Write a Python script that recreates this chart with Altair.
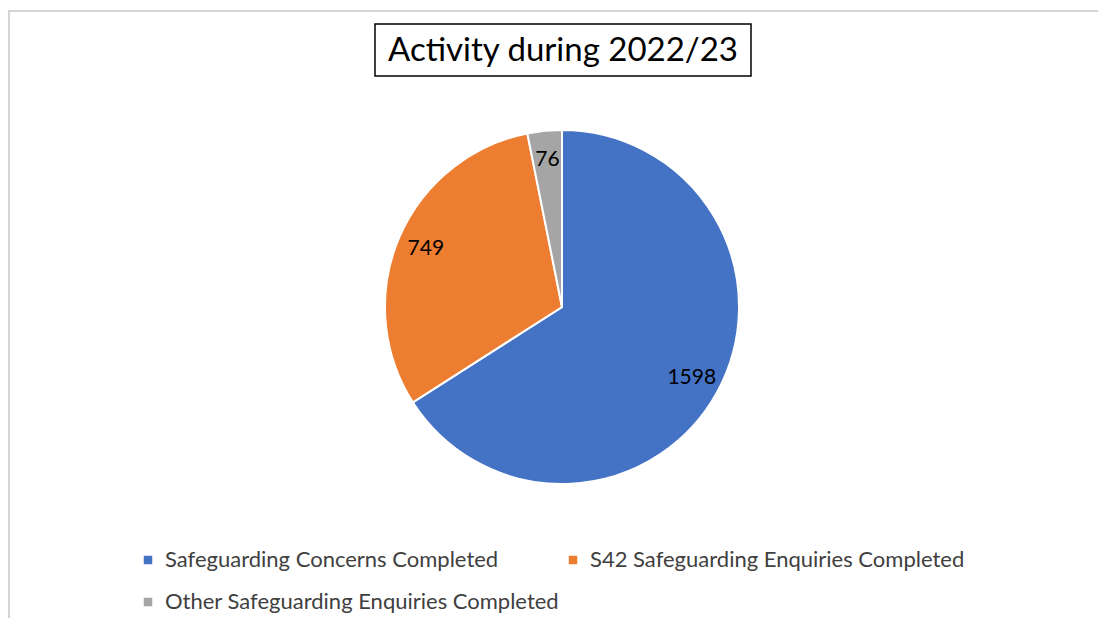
import altair as alt
import pandas as pd

categories = [
    "Safeguarding Concerns Completed",
    "S42 Safeguarding Enquiries Completed",
    "Other Safeguarding Enquiries Completed",
]
values = [1598, 749, 76]
colors = ["#4472C4", "#ED7D31", "#A5A5A5"]
title_text = "Activity during 2022/23"

df = pd.DataFrame({"category": categories, "value": values, "order": list(range(len(categories)))})
one = pd.DataFrame({"t": [title_text]})

FONT = "Lato"
CX, CY = 554, 299

border = alt.Chart(one).mark_rect(fill="white", stroke="#d4d4d4", strokeWidth=2).encode(
    x=alt.value(1), x2=alt.value(1110), y=alt.value(3), y2=alt.value(630)
)
title_box = alt.Chart(one).mark_rect(fill="white", stroke="#000000", strokeWidth=1.5).encode(
    x=alt.value(367), x2=alt.value(743), y=alt.value(16), y2=alt.value(68)
)
title = alt.Chart(one).mark_text(font=FONT, fontSize=33, color="#000000", baseline="middle", align="center").encode(
    text="t:N", x=alt.value(555), y=alt.value(43)
)

base = alt.Chart(df).encode(
    theta=alt.Theta("value:Q", stack=True),
    order=alt.Order("order:Q"),
)

pie = base.mark_arc(outerRadius=177, stroke="white", strokeWidth=2).encode(
    x=alt.value(CX),
    y=alt.value(CY),
    color=alt.Color(
        "category:N",
        sort=categories,
        scale=alt.Scale(domain=categories, range=colors),
        legend=alt.Legend(
            title=None,
            orient="none",
            direction="horizontal",
            legendX=129,
            legendY=541,
            columns=2,
            columnPadding=2,
            rowPadding=20,
            symbolType="square",
            symbolSize=72,
            symbolStrokeWidth=0,
            labelFontSize=22,
            labelFont=FONT,
            labelColor="#404040",
            labelLimit=800,
            labelOffset=6,
        ),
    ),
)

labels = base.mark_text(radius=148, font=FONT, fontSize=21, color="#000000").encode(
    x=alt.value(CX),
    y=alt.value(CY),
    text=alt.Text("value:Q", format="d"),
)

chart = (
    alt.layer(border, title_box, title, pie, labels)
    .properties(width=1090, height=610, autosize=alt.AutoSizeParams(type="none"), padding=0)
    .configure_view(strokeWidth=0)
)

chart.save("out.html", embed_options={"renderer": "svg", "actions": False})
